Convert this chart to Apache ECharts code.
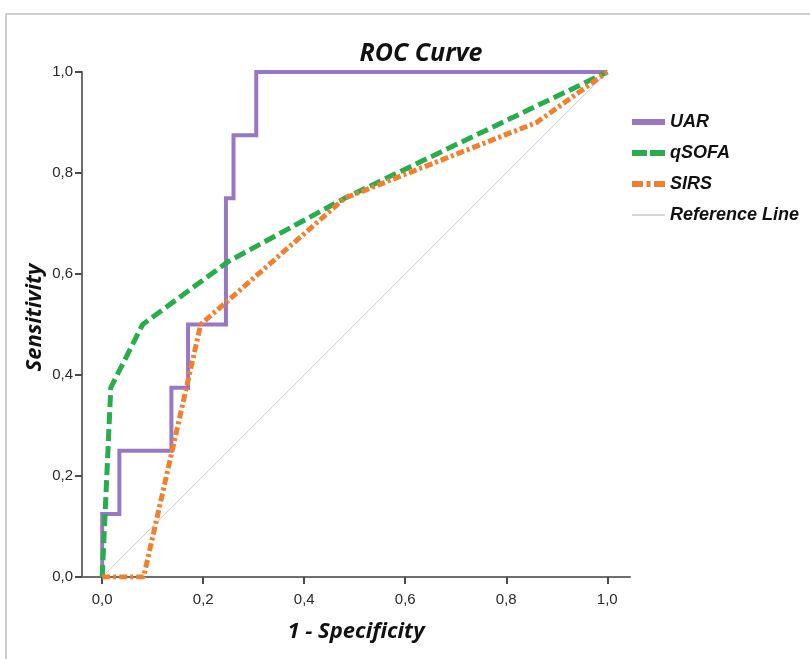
<!DOCTYPE html>
<html>
<head>
<meta charset="utf-8">
<script src="https://cdn.jsdelivr.net/npm/echarts@6/dist/echarts.min.js"></script>
<style>
html,body{margin:0;padding:0;background:#fff;}
#chart{width:810px;height:659px;}
</style>
</head>
<body>
<div id="chart"></div>
<script>
// ---- data ----
const uarFpr   = [0, 0, 0.034, 0.034, 0.137, 0.137, 0.170, 0.170, 0.245, 0.245, 0.260, 0.260, 0.305, 0.305, 1.0];
const uarSens  = [0, 0.125, 0.125, 0.25, 0.25, 0.375, 0.375, 0.5, 0.5, 0.75, 0.75, 0.875, 0.875, 1.0, 1.0];
const qsofaFpr  = [0, 0.017, 0.080, 0.250, 0.480, 1.0];
const qsofaSens = [0, 0.375, 0.500, 0.625, 0.750, 1.0];
const sirsFpr  = [0, 0.082, 0.195, 0.480, 0.860, 1.0];
const sirsSens = [0, 0.0, 0.500, 0.750, 0.900, 1.0];
const refFpr   = [0, 1];
const refSens  = [0, 1];
const tickValues = [0, 0.2, 0.4, 0.6, 0.8, 1.0];
const seriesNames = ['UAR', 'qSOFA', 'SIRS', 'Reference Line'];

function pairs(xs, ys) { return xs.map((x, i) => [x, ys[i]]); }
function fmt(v) { return v.toFixed(1).replace('.', ','); }

const legendIcons = {
  'UAR': 'path://M0,0H33V6H0Z',
  'qSOFA': 'path://M0,0H15V6H0Z M18,0H33V6H18Z',
  'SIRS': 'path://M0,0H11V6H0Z M14.5,0H18.5V6H14.5Z M22,0H33V6H22Z',
  'Reference Line': 'path://M0,0H33V1.5H0Z'
};

const chart = echarts.init(document.getElementById('chart'));
const labelFont = { color: '#2a2a2a', fontSize: 15, fontFamily: 'Liberation Sans, Arial, sans-serif' };
const nameFont = { color: '#111', fontSize: 22, fontWeight: 'bold', fontStyle: 'italic', fontFamily: 'Open Sans, sans-serif' };

chart.setOption({
  backgroundColor: '#fff',
  animation: false,
  graphic: [{
    type: 'rect', silent: true, z: -10,
    shape: { x: 6, y: 14, width: 900, height: 800 },
    style: { fill: 'none', stroke: '#cfcfcf', lineWidth: 2 }
  }],
  title: {
    text: 'ROC Curve',
    left: 421, top: 41, textAlign: 'center', padding: 0,
    textStyle: { color: '#111', fontSize: 25, fontWeight: 'bold', fontStyle: 'italic', fontFamily: 'Open Sans, sans-serif' }
  },
  legend: {
    orient: 'vertical',
    left: 632, top: 113, padding: 0,
    itemWidth: 33, itemHeight: 16, itemGap: 13,
    data: seriesNames.map(n => ({ name: n, icon: legendIcons[n] })),
    textStyle: { color: '#111', fontSize: 18, fontWeight: 'bold', fontStyle: 'italic', fontFamily: 'Liberation Sans, Arial, sans-serif' }
  },
  grid: { left: 82, right: 180, top: 72, bottom: 82, containLabel: false },
  xAxis: {
    type: 'value', min: -0.04, max: 1.045,
    name: '1 - Specificity', nameLocation: 'middle', nameGap: 44,
    nameTextStyle: nameFont,
    axisLine: { show: true, onZero: false, lineStyle: { color: '#6e6e6e', width: 2 } },
    axisTick: { show: true, customValues: tickValues, length: 7, lineStyle: { color: '#4a4a4a', width: 2 } },
    axisLabel: { customValues: tickValues, formatter: fmt, margin: 15, ...labelFont },
    splitLine: { show: false }
  },
  yAxis: {
    type: 'value', min: 0, max: 1, interval: 0.2,
    name: 'Sensitivity', nameLocation: 'middle', nameGap: 36, nameMoveOverlap: false,
    nameTextStyle: { ...nameFont, padding: [0, 0, 0, 14] },
    axisLine: { show: true, onZero: false, lineStyle: { color: '#6e6e6e', width: 2 } },
    axisTick: { show: true, length: 7, lineStyle: { color: '#4a4a4a', width: 2 } },
    axisLabel: { formatter: fmt, margin: 9, ...labelFont },
    splitLine: { show: false }
  },
  series: [
    {
      name: 'Reference Line', type: 'line', data: pairs(refFpr, refSens),
      symbol: 'none', z: 1,
      lineStyle: { color: '#c9c9c9', width: 1 },
      itemStyle: { color: '#c9c9c9' }
    },
    {
      name: 'UAR', type: 'line', data: pairs(uarFpr, uarSens),
      symbol: 'none', z: 2,
      lineStyle: { color: '#9878c2', width: 4, join: 'miter', cap: 'butt' },
      itemStyle: { color: '#9878c2' }
    },
    {
      name: 'qSOFA', type: 'line', data: pairs(qsofaFpr, qsofaSens),
      symbol: 'none', z: 3,
      lineStyle: { color: '#27ad4c', width: 5, type: [12, 5], cap: 'butt' },
      itemStyle: { color: '#27ad4c' }
    },
    {
      name: 'SIRS', type: 'line', data: pairs(sirsFpr, sirsSens),
      symbol: 'none', z: 4,
      lineStyle: { color: '#f0802d', width: 5, type: [8, 3, 3, 3], cap: 'butt' },
      itemStyle: { color: '#f0802d' }
    }
  ]
});
</script>
</body>
</html>
